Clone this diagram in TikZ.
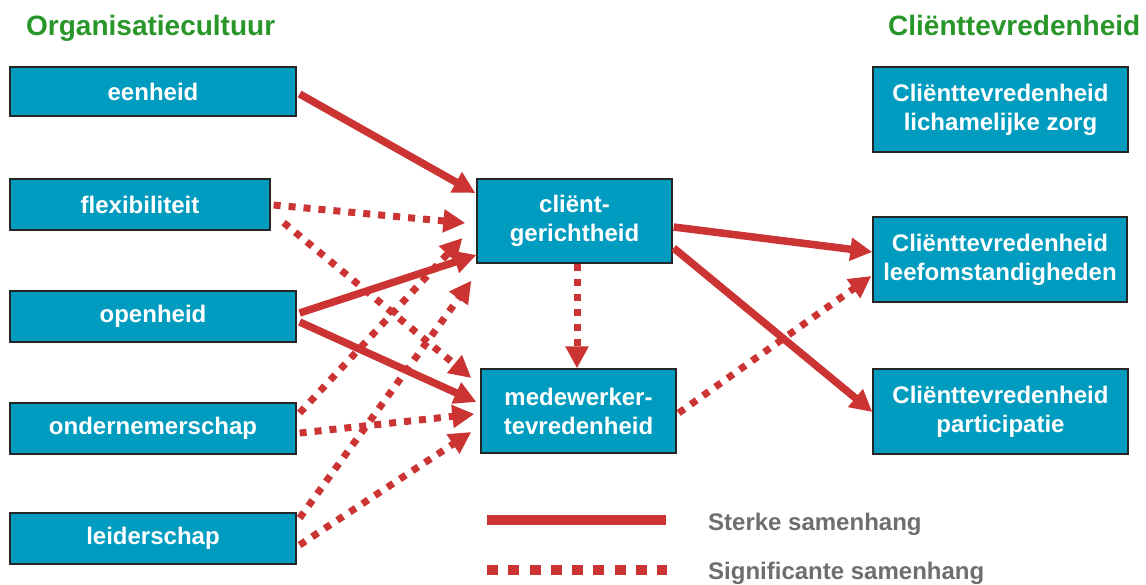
\documentclass[tikz,border=0pt]{standalone}
\usepackage{fontspec}
\setmainfont{Liberation Sans}
\usetikzlibrary{arrows.meta}
\definecolor{boxblue}{RGB}{0,156,192}
\definecolor{arrred}{RGB}{204,51,51}
\definecolor{titlegreen}{RGB}{40,150,40}
\definecolor{leggray}{RGB}{110,110,110}
\begin{document}
\begin{tikzpicture}[x=1pt,y=-1pt,
  box/.style={draw=black!85, line width=1.3pt, fill=boxblue, text=white,
    font=\fontsize{24}{29}\selectfont\bfseries, align=center, inner sep=0pt},
  strong/.style={draw=arrred, line width=7.5pt, -{Triangle[length=22pt,width=22pt]}},
  signif/.style={draw=arrred, line width=7pt, dash pattern=on 7pt off 8pt, -{Triangle[length=22pt,width=22pt]}},
  title/.style={text=titlegreen, font=\fontsize{28}{32}\selectfont\bfseries, anchor=base west, inner sep=0pt},
  legtext/.style={text=leggray, font=\fontsize{24}{28}\selectfont\bfseries, anchor=base west, inner sep=0pt},
]
\useasboundingbox (0,0) rectangle (1146,584);
\fill[white] (0,0) rectangle (1146,584);

\node[title] (t1) at (26,35) {Organisatiecultuur};
\node[title] (t2) at (888,35) {Cliënttevredenheid};

\node[box, minimum width=286pt, minimum height=49pt] (een) at (153,91.5) {eenheid};
\node[box, minimum width=260pt, minimum height=51pt] (flex) at (140,204.5) {flexibiliteit};
\node[box, minimum width=286pt, minimum height=51pt] (open) at (153,316.5) {openheid};
\node[box, minimum width=286pt, minimum height=51pt] (ond) at (153,428.5) {ondernemerschap};
\node[box, minimum width=286pt, minimum height=51pt] (leid) at (153,538.5) {leiderschap};

\node[box, minimum width=195pt, minimum height=84pt] (cg) at (574.5,221) {cliënt-\\gerichtheid};
\node[box, minimum width=195pt, minimum height=84pt] (med) at (578.5,411) {medewerker-\\tevredenheid};

\node[box, minimum width=255pt, minimum height=85pt] (r1) at (1000.5,109.5) {Cliënttevredenheid\\lichamelijke zorg};
\node[box, minimum width=254pt, minimum height=85pt] (r2) at (1000,259.5) {Cliënttevredenheid\\leefomstandigheden};
\node[box, minimum width=255pt, minimum height=85pt] (r3) at (1000.5,411.5) {Cliënttevredenheid\\participatie};

% connectors
\draw[strong] ([xshift=3pt,yshift=-2.5pt]een.east) -- ([xshift=-1pt,yshift=28pt]cg.west);
\draw[signif] ([xshift=3pt,yshift=-0.5pt]flex.east) -- ([xshift=-11pt,yshift=-2pt]cg.west);
\draw[signif] ([xshift=13pt,yshift=8pt]flex.south east) -- ([xshift=-9pt,yshift=33pt]med.west);
\draw[strong] ([xshift=3pt,yshift=3.5pt]open.east) -- ([xshift=0pt,yshift=-34pt]cg.west);
\draw[strong] ([xshift=3pt,yshift=-5.5pt]open.east) -- ([xshift=-4pt,yshift=9pt]med.west);
\draw[signif] ([xshift=3pt,yshift=15.5pt]ond.east) -- ([xshift=-14pt,yshift=-17pt]cg.west);
\draw[signif] ([xshift=3pt,yshift=-4.5pt]ond.east) -- ([xshift=-6pt,yshift=-3pt]med.west);
\draw[signif] ([xshift=3pt,yshift=20.5pt]leid.east) -- ([xshift=-5pt,yshift=-17pt]cg.south west);
\draw[signif] ([xshift=3pt,yshift=-6.5pt]leid.east) -- ([xshift=-9pt,yshift=-21pt]med.west);
\draw[signif] ([xshift=2.5pt]cg.south) -- ([xshift=-1.5pt]med.north);
\draw[strong] ([xshift=1pt,yshift=-6pt]cg.east) -- ([yshift=7.5pt]r2.west);
\draw[strong] ([xshift=1pt,yshift=-27pt]cg.east) -- ([yshift=-0.5pt]r3.west);
\draw[signif] ([xshift=2pt,yshift=-2pt]med.east) -- ([xshift=-1pt,yshift=-16.5pt]r2.west);

% legend
\coordinate (l1a) at (487,520);
\coordinate (l1b) at (666,520);
\coordinate (l2a) at (487,570);
\coordinate (l2b) at (667,570);
\draw[draw=arrred, line width=10pt] (l1a) -- (l1b);
\draw[draw=arrred, line width=10pt, dash pattern=on 11pt off 10.25pt] (l2a) -- (l2b);
\node[legtext] (lt1) at (708,530) {Sterke samenhang};
\node[legtext] (lt2) at (708,579) {Significante samenhang};
\end{tikzpicture}
\end{document}
